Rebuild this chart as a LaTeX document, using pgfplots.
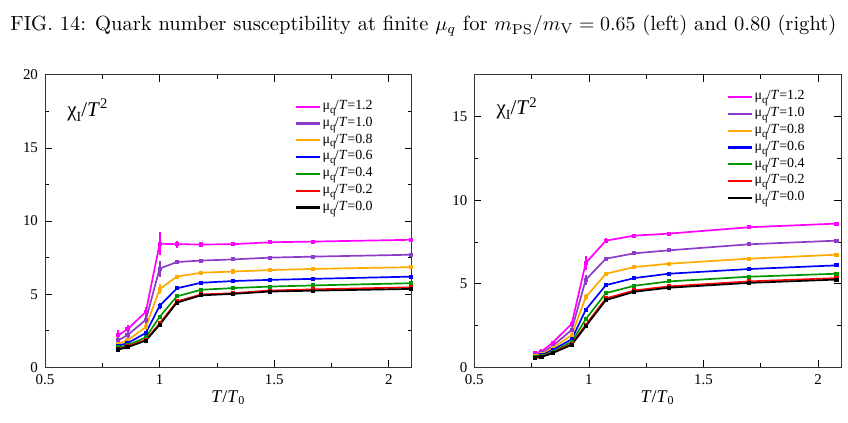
\documentclass[border=0pt]{standalone}
\usepackage{pgfplots}
\pgfplotsset{compat=1.18}
\usepackage{fontspec}
\newfontfamily\tms{Liberation Serif}
\newcommand{\mq}[1]{μ\raisebox{-0.6ex}{\fontsize{5.5}{6}\selectfont q}\kern-0.05em/\textit{T}=#1}
\definecolor{cpink}{RGB}{255,0,255}
\definecolor{cpurp}{RGB}{140,60,200}
\definecolor{corng}{RGB}{255,170,0}
\definecolor{cblue}{RGB}{0,0,255}
\definecolor{cgrn}{RGB}{0,150,0}
\definecolor{cred}{RGB}{255,0,0}
\pgfplotsset{myax/.style={
  scale only axis, width=183.4bp, height=146.2bp,
  xmin=0.5, xmax=2.1, ymin=0,
  xtick={0.5,1,1.5,2},
  minor tick num=1, tick align=inside,
  major tick length=3.5bp, minor tick length=2bp,
  tick style={black, line width=0.4pt},
  axis line style={line width=0.5pt, black!80},
  tick label style={font=\tms\fontsize{7.5}{9}\selectfont},
  /pgf/number format/assume math mode=true,
  xlabel={\textit{T}/\textit{T}\textsubscript{0}},
  xlabel style={font=\tms\fontsize{9}{10}\selectfont, yshift=4pt},
  legend cell align=left,
  legend style={draw=none, fill=none, font=\tms\fontsize{7}{8}\selectfont,
     row sep=0pt, nodes={inner sep=0.6bp, text height=5bp, text depth=2.2bp}},
  legend image code/.code={\draw[line width=1.1pt] (0bp,0bp) -- (12bp,0bp);},
  every axis plot/.append style={line width=0.85pt, mark=square*, mark size=0.6pt,
     error bars/y dir=both, error bars/y explicit, error bars/error mark=none,
     error bars/error bar style={line width=1pt}},
}}
\begin{document}
\begin{tikzpicture}
\useasboundingbox (0,0) rectangle (424bp,211.5bp);
\node[anchor=base west, inner sep=0pt, font=\fontsize{10.3}{12}\selectfont] at (5bp,196bp)
  {FIG. 14: Quark number susceptibility at finite $\mu_q$ for $m_{\mathrm{PS}}/m_{\mathrm{V}} = 0.65$ (left) and 0.80 (right)};
% ---------------- left ----------------
\begin{axis}[myax, at={(22.5bp,27.85bp)}, anchor=south west,
  ymax=20, ytick={0,5,10,15,20},
  legend style={at={(0.665,0.935)}, anchor=north west}]
\addplot[cpink, mark options={fill=cpink}] coordinates {
(0.82,2.2) +- (0,0.35) (0.86,2.6) +- (0,0.3) (0.94,3.8) +- (0,0.35) (1.0,8.45) +- (0,0.8)
(1.075,8.42) +- (0,0.25) (1.18,8.4) +- (0,0.15) (1.32,8.42) +- (0,0.1) (1.48,8.55) +- (0,0.12)
(1.67,8.6) +- (0,0.12) (2.095,8.72) +- (0,0.08)};
\addlegendentry{\mq{1.2}}
\addplot[cpurp, mark options={fill=cpurp}] coordinates {
(0.82,1.85) +- (0,0.25) (0.86,2.2) +- (0,0.25) (0.94,3.25) +- (0,0.3) (1.0,6.75) +- (0,0.55)
(1.075,7.2) +- (0,0.15) (1.18,7.3) +- (0,0.1) (1.32,7.38) +- (0,0.08) (1.48,7.5) +- (0,0.08)
(1.67,7.57) +- (0,0.08) (2.095,7.7) +- (0,0.06)};
\addlegendentry{\mq{1.0}}
\addplot[corng, mark options={fill=corng}] coordinates {
(0.82,1.6) +- (0,0.15) (0.86,1.85) +- (0,0.15) (0.94,2.75) +- (0,0.2) (1.0,5.35) +- (0,0.35)
(1.075,6.2) +- (0,0.12) (1.18,6.47) +- (0,0.08) (1.32,6.55) +- (0,0.06) (1.48,6.65) +- (0,0.06)
(1.67,6.73) +- (0,0.06) (2.095,6.85) +- (0,0.05)};
\addlegendentry{\mq{0.8}}
\addplot[cblue, mark options={fill=cblue}] coordinates {
(0.82,1.48) +- (0,0.1) (0.86,1.65) +- (0,0.1) (0.94,2.35) +- (0,0.12) (1.0,4.2) +- (0,0.2)
(1.075,5.4) +- (0,0.08) (1.18,5.78) +- (0,0.06) (1.32,5.9) +- (0,0.05) (1.48,5.98) +- (0,0.05)
(1.67,6.05) +- (0,0.05) (2.095,6.2) +- (0,0.04)};
\addlegendentry{\mq{0.6}}
\addplot[cgrn, mark options={fill=cgrn}] coordinates {
(0.82,1.37) (0.86,1.5) (0.94,2.05) (1.0,3.45) +- (0,0.12)
(1.075,4.85) (1.18,5.3) (1.32,5.42) (1.48,5.52) (1.67,5.6) (2.095,5.75)};
\addlegendentry{\mq{0.4}}
\addplot[cred, mark options={fill=cred}] coordinates {
(0.82,1.27) (0.86,1.42) (0.94,1.88) (1.0,3.0)
(1.075,4.5) (1.18,4.98) (1.32,5.07) (1.48,5.25) (1.67,5.33) (2.095,5.47)};
\addlegendentry{\mq{0.2}}
\addplot[black, mark options={fill=black}] coordinates {
(0.82,1.22) (0.86,1.37) (0.94,1.83) (1.0,2.9)
(1.075,4.42) (1.18,4.92) (1.32,5.02) (1.48,5.18) (1.67,5.24) (2.095,5.36)};
\addlegendentry{\mq{0.0}}
\node[anchor=west, inner sep=0pt, font=\tms\fontsize{10.5}{12}\selectfont] at (rel axis cs:0.06,0.88)
  {χ\raisebox{-0.5ex}{\fontsize{7}{8}\selectfont I}/\textit{T}\textsuperscript{2}};
\end{axis}
% ---------------- right ----------------
\begin{axis}[myax, at={(237.15bp,27.85bp)}, anchor=south west,
  ymax=17.5, ytick={0,5,10,15},
  legend style={at={(0.672,0.968)}, anchor=north west}]
\addplot[cpink, mark options={fill=cpink}] coordinates {
(0.765,0.84) +- (0,0.15) (0.793,0.94) +- (0,0.15) (0.842,1.48) +- (0,0.12) (0.925,2.6) +- (0,0.2)
(0.986,6.24) +- (0,0.4) (1.074,7.58) +- (0,0.15) (1.198,7.88) +- (0,0.12) (1.348,8.0) +- (0,0.08)
(1.697,8.38) +- (0,0.08) (2.08,8.6) +- (0,0.06)};
\addlegendentry{\mq{1.2}}
\addplot[cpurp, mark options={fill=cpurp}] coordinates {
(0.765,0.74) (0.793,0.84) (0.842,1.28) (0.925,2.24) +- (0,0.12)
(0.986,5.24) +- (0,0.3) (1.074,6.5) +- (0,0.1) (1.198,6.82) (1.348,7.0) (1.697,7.36) (2.08,7.58)};
\addlegendentry{\mq{1.0}}
\addplot[corng, mark options={fill=corng}] coordinates {
(0.765,0.68) (0.793,0.78) (0.842,1.14) (0.925,1.94)
(0.986,4.2) +- (0,0.2) (1.074,5.6) (1.198,6.0) (1.348,6.2) (1.697,6.5) (2.08,6.74)};
\addlegendentry{\mq{0.8}}
\addplot[cblue, mark options={fill=cblue}] coordinates {
(0.765,0.64) (0.793,0.72) (0.842,1.04) (0.925,1.68)
(0.986,3.44) +- (0,0.12) (1.074,4.92) (1.198,5.34) (1.348,5.6) (1.697,5.88) (2.08,6.1)};
\addlegendentry{\mq{0.6}}
\addplot[cgrn, mark options={fill=cgrn}] coordinates {
(0.765,0.6) (0.793,0.68) (0.842,0.94) (0.925,1.52)
(0.986,2.88) (1.074,4.44) (1.198,4.88) (1.348,5.14) (1.697,5.42) (2.08,5.6)};
\addlegendentry{\mq{0.4}}
\addplot[cred, mark options={fill=cred}] coordinates {
(0.765,0.58) (0.793,0.64) (0.842,0.88) (0.925,1.4)
(0.986,2.54) (1.074,4.12) (1.198,4.6) (1.348,4.84) (1.697,5.14) (2.08,5.34)};
\addlegendentry{\mq{0.2}}
\addplot[black, mark options={fill=black}] coordinates {
(0.765,0.56) (0.793,0.62) (0.842,0.85) (0.925,1.35)
(0.986,2.45) (1.074,4.02) (1.198,4.52) (1.348,4.76) (1.697,5.05) (2.08,5.25)};
\addlegendentry{\mq{0.0}}
\node[anchor=west, inner sep=0pt, font=\tms\fontsize{10.5}{12}\selectfont] at (rel axis cs:0.06,0.885)
  {χ\raisebox{-0.5ex}{\fontsize{7}{8}\selectfont I}/\textit{T}\textsuperscript{2}};
\end{axis}
\end{tikzpicture}
\end{document}
